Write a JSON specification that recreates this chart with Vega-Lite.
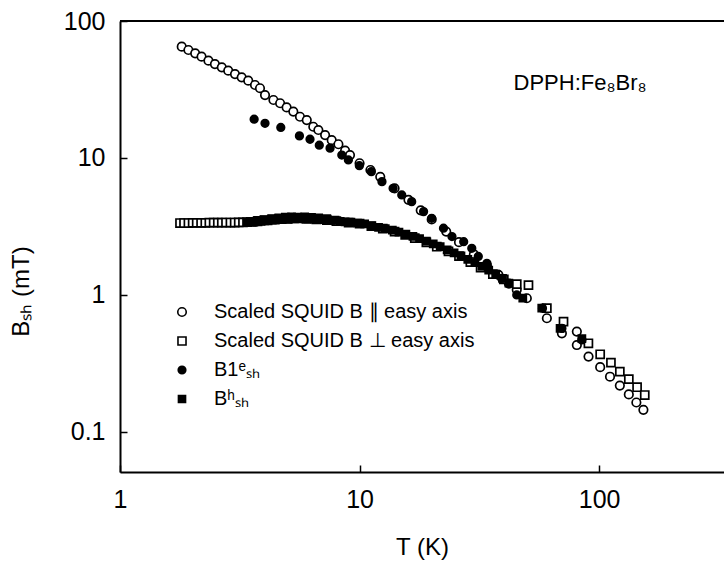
{
  "$schema": "https://vega.github.io/schema/vega-lite/v6.json",
  "autosize": "none",
  "width": 604,
  "height": 451,
  "padding": {"left": 120, "top": 21, "right": 0, "bottom": 91},
  "background": "white",
  "config": {
    "font": "Liberation Sans",
    "view": {"stroke": null},
    "axis": {"grid": false, "domainColor": "black", "domainWidth": 2, "tickColor": "black", "tickWidth": 1.5, "labelColor": "black", "titleColor": "black", "labelFont": "Liberation Sans", "titleFont": "Liberation Sans", "titleFontWeight": "normal"},
    "legend": {"labelFont": "Liberation Sans", "labelLimit": 500, "labelColor": "black", "title": null, "orient": "none", "legendX": 52, "legendY": 281, "labelFontSize": 20, "labelOffset": 22, "rowPadding": 9, "padding": 0, "symbolStrokeWidth": 1.6}
  },
  "datasets": {
    "pts": [
      {"T": 1.81, "B": 65.0, "series": "Scaled SQUID B ∥ easy axis"},
      {"T": 1.93, "B": 61.4, "series": "Scaled SQUID B ∥ easy axis"},
      {"T": 2.06, "B": 58.1, "series": "Scaled SQUID B ∥ easy axis"},
      {"T": 2.19, "B": 54.9, "series": "Scaled SQUID B ∥ easy axis"},
      {"T": 2.34, "B": 51.3, "series": "Scaled SQUID B ∥ easy axis"},
      {"T": 2.49, "B": 48.5, "series": "Scaled SQUID B ∥ easy axis"},
      {"T": 2.66, "B": 45.9, "series": "Scaled SQUID B ∥ easy axis"},
      {"T": 2.83, "B": 43.4, "series": "Scaled SQUID B ∥ easy axis"},
      {"T": 3.02, "B": 41.0, "series": "Scaled SQUID B ∥ easy axis"},
      {"T": 3.22, "B": 38.8, "series": "Scaled SQUID B ∥ easy axis"},
      {"T": 3.43, "B": 36.7, "series": "Scaled SQUID B ∥ easy axis"},
      {"T": 3.66, "B": 34.1, "series": "Scaled SQUID B ∥ easy axis"},
      {"T": 3.84, "B": 32.3, "series": "Scaled SQUID B ∥ easy axis"},
      {"T": 4.03, "B": 28.8, "series": "Scaled SQUID B ∥ easy axis"},
      {"T": 4.37, "B": 26.5, "series": "Scaled SQUID B ∥ easy axis"},
      {"T": 4.66, "B": 25.1, "series": "Scaled SQUID B ∥ easy axis"},
      {"T": 4.96, "B": 23.4, "series": "Scaled SQUID B ∥ easy axis"},
      {"T": 5.29, "B": 21.8, "series": "Scaled SQUID B ∥ easy axis"},
      {"T": 5.64, "B": 20.0, "series": "Scaled SQUID B ∥ easy axis"},
      {"T": 6.02, "B": 18.9, "series": "Scaled SQUID B ∥ easy axis"},
      {"T": 6.41, "B": 16.9, "series": "Scaled SQUID B ∥ easy axis"},
      {"T": 6.73, "B": 16.0, "series": "Scaled SQUID B ∥ easy axis"},
      {"T": 7.18, "B": 14.7, "series": "Scaled SQUID B ∥ easy axis"},
      {"T": 7.65, "B": 13.5, "series": "Scaled SQUID B ∥ easy axis"},
      {"T": 8.16, "B": 12.6, "series": "Scaled SQUID B ∥ easy axis"},
      {"T": 8.70, "B": 11.3, "series": "Scaled SQUID B ∥ easy axis"},
      {"T": 9.12, "B": 10.5, "series": "Scaled SQUID B ∥ easy axis"},
      {"T": 10.0, "B": 9.15, "series": "Scaled SQUID B ∥ easy axis"},
      {"T": 11.1, "B": 8.17, "series": "Scaled SQUID B ∥ easy axis"},
      {"T": 12.2, "B": 7.29, "series": "Scaled SQUID B ∥ easy axis"},
      {"T": 14.0, "B": 6.0, "series": "Scaled SQUID B ∥ easy axis"},
      {"T": 16.0, "B": 4.95, "series": "Scaled SQUID B ∥ easy axis"},
      {"T": 18.0, "B": 4.15, "series": "Scaled SQUID B ∥ easy axis"},
      {"T": 20.0, "B": 3.56, "series": "Scaled SQUID B ∥ easy axis"},
      {"T": 23.0, "B": 2.9, "series": "Scaled SQUID B ∥ easy axis"},
      {"T": 26.0, "B": 2.43, "series": "Scaled SQUID B ∥ easy axis"},
      {"T": 30.0, "B": 1.98, "series": "Scaled SQUID B ∥ easy axis"},
      {"T": 34.0, "B": 1.65, "series": "Scaled SQUID B ∥ easy axis"},
      {"T": 38.0, "B": 1.4, "series": "Scaled SQUID B ∥ easy axis"},
      {"T": 42.0, "B": 1.21, "series": "Scaled SQUID B ∥ easy axis"},
      {"T": 45.3, "B": 1.09, "series": "Scaled SQUID B ∥ easy axis"},
      {"T": 49.9, "B": 0.946, "series": "Scaled SQUID B ∥ easy axis"},
      {"T": 60.5, "B": 0.676, "series": "Scaled SQUID B ∥ easy axis"},
      {"T": 69.9, "B": 0.525, "series": "Scaled SQUID B ∥ easy axis"},
      {"T": 80.7, "B": 0.54, "series": "Scaled SQUID B ∥ easy axis"},
      {"T": 80.7, "B": 0.431, "series": "Scaled SQUID B ∥ easy axis"},
      {"T": 90.3, "B": 0.355, "series": "Scaled SQUID B ∥ easy axis"},
      {"T": 101, "B": 0.297, "series": "Scaled SQUID B ∥ easy axis"},
      {"T": 111, "B": 0.253, "series": "Scaled SQUID B ∥ easy axis"},
      {"T": 122, "B": 0.218, "series": "Scaled SQUID B ∥ easy axis"},
      {"T": 133, "B": 0.188, "series": "Scaled SQUID B ∥ easy axis"},
      {"T": 143, "B": 0.164, "series": "Scaled SQUID B ∥ easy axis"},
      {"T": 153, "B": 0.145, "series": "Scaled SQUID B ∥ easy axis"},

      {"T": 1.78, "B": 3.35, "series": "Scaled SQUID B ⊥ easy axis"},
      {"T": 1.85, "B": 3.35, "series": "Scaled SQUID B ⊥ easy axis"},
      {"T": 1.93, "B": 3.35, "series": "Scaled SQUID B ⊥ easy axis"},
      {"T": 2.01, "B": 3.36, "series": "Scaled SQUID B ⊥ easy axis"},
      {"T": 2.09, "B": 3.36, "series": "Scaled SQUID B ⊥ easy axis"},
      {"T": 2.18, "B": 3.36, "series": "Scaled SQUID B ⊥ easy axis"},
      {"T": 2.27, "B": 3.36, "series": "Scaled SQUID B ⊥ easy axis"},
      {"T": 2.36, "B": 3.37, "series": "Scaled SQUID B ⊥ easy axis"},
      {"T": 2.46, "B": 3.37, "series": "Scaled SQUID B ⊥ easy axis"},
      {"T": 2.56, "B": 3.37, "series": "Scaled SQUID B ⊥ easy axis"},
      {"T": 2.66, "B": 3.37, "series": "Scaled SQUID B ⊥ easy axis"},
      {"T": 2.77, "B": 3.38, "series": "Scaled SQUID B ⊥ easy axis"},
      {"T": 2.89, "B": 3.38, "series": "Scaled SQUID B ⊥ easy axis"},
      {"T": 3.01, "B": 3.38, "series": "Scaled SQUID B ⊥ easy axis"},
      {"T": 3.13, "B": 3.39, "series": "Scaled SQUID B ⊥ easy axis"},
      {"T": 3.26, "B": 3.39, "series": "Scaled SQUID B ⊥ easy axis"},
      {"T": 3.39, "B": 3.40, "series": "Scaled SQUID B ⊥ easy axis"},
      {"T": 3.55, "B": 3.42, "series": "Scaled SQUID B ⊥ easy axis"},
      {"T": 3.75, "B": 3.45, "series": "Scaled SQUID B ⊥ easy axis"},
      {"T": 4.0, "B": 3.5, "series": "Scaled SQUID B ⊥ easy axis"},
      {"T": 4.3, "B": 3.55, "series": "Scaled SQUID B ⊥ easy axis"},
      {"T": 4.6, "B": 3.58, "series": "Scaled SQUID B ⊥ easy axis"},
      {"T": 5.0, "B": 3.6, "series": "Scaled SQUID B ⊥ easy axis"},
      {"T": 5.5, "B": 3.62, "series": "Scaled SQUID B ⊥ easy axis"},
      {"T": 6.0, "B": 3.6, "series": "Scaled SQUID B ⊥ easy axis"},
      {"T": 6.6, "B": 3.57, "series": "Scaled SQUID B ⊥ easy axis"},
      {"T": 7.3, "B": 3.52, "series": "Scaled SQUID B ⊥ easy axis"},
      {"T": 8.0, "B": 3.46, "series": "Scaled SQUID B ⊥ easy axis"},
      {"T": 9.0, "B": 3.38, "series": "Scaled SQUID B ⊥ easy axis"},
      {"T": 10.0, "B": 3.32, "series": "Scaled SQUID B ⊥ easy axis"},
      {"T": 11.2, "B": 3.18, "series": "Scaled SQUID B ⊥ easy axis"},
      {"T": 12.5, "B": 3.05, "series": "Scaled SQUID B ⊥ easy axis"},
      {"T": 14.0, "B": 2.9, "series": "Scaled SQUID B ⊥ easy axis"},
      {"T": 15.5, "B": 2.75, "series": "Scaled SQUID B ⊥ easy axis"},
      {"T": 17.0, "B": 2.6, "series": "Scaled SQUID B ⊥ easy axis"},
      {"T": 19.0, "B": 2.42, "series": "Scaled SQUID B ⊥ easy axis"},
      {"T": 21.0, "B": 2.25, "series": "Scaled SQUID B ⊥ easy axis"},
      {"T": 23.5, "B": 2.08, "series": "Scaled SQUID B ⊥ easy axis"},
      {"T": 26.0, "B": 1.92, "series": "Scaled SQUID B ⊥ easy axis"},
      {"T": 29.0, "B": 1.74, "series": "Scaled SQUID B ⊥ easy axis"},
      {"T": 32.0, "B": 1.58, "series": "Scaled SQUID B ⊥ easy axis"},
      {"T": 36.0, "B": 1.42, "series": "Scaled SQUID B ⊥ easy axis"},
      {"T": 40.0, "B": 1.3, "series": "Scaled SQUID B ⊥ easy axis"},
      {"T": 45.3, "B": 1.20, "series": "Scaled SQUID B ⊥ easy axis"},
      {"T": 50.7, "B": 1.18, "series": "Scaled SQUID B ⊥ easy axis"},
      {"T": 60.5, "B": 0.80, "series": "Scaled SQUID B ⊥ easy axis"},
      {"T": 71.0, "B": 0.638, "series": "Scaled SQUID B ⊥ easy axis"},
      {"T": 90.2, "B": 0.444, "series": "Scaled SQUID B ⊥ easy axis"},
      {"T": 101, "B": 0.369, "series": "Scaled SQUID B ⊥ easy axis"},
      {"T": 112, "B": 0.321, "series": "Scaled SQUID B ⊥ easy axis"},
      {"T": 122, "B": 0.276, "series": "Scaled SQUID B ⊥ easy axis"},
      {"T": 133, "B": 0.243, "series": "Scaled SQUID B ⊥ easy axis"},
      {"T": 144, "B": 0.212, "series": "Scaled SQUID B ⊥ easy axis"},
      {"T": 155, "B": 0.186, "series": "Scaled SQUID B ⊥ easy axis"},

      {"T": 3.63, "B": 19.2, "series": "B1ᵉₛₕ"},
      {"T": 4.03, "B": 17.9, "series": "B1ᵉₛₕ"},
      {"T": 4.69, "B": 16.7, "series": "B1ᵉₛₕ"},
      {"T": 5.61, "B": 14.5, "series": "B1ᵉₛₕ"},
      {"T": 6.21, "B": 13.7, "series": "B1ᵉₛₕ"},
      {"T": 6.79, "B": 12.4, "series": "B1ᵉₛₕ"},
      {"T": 7.53, "B": 11.8, "series": "B1ᵉₛₕ"},
      {"T": 8.43, "B": 10.5, "series": "B1ᵉₛₕ"},
      {"T": 8.98, "B": 9.67, "series": "B1ᵉₛₕ"},
      {"T": 9.98, "B": 8.79, "series": "B1ᵉₛₕ"},
      {"T": 11.2, "B": 7.95, "series": "B1ᵉₛₕ"},
      {"T": 12.4, "B": 6.72, "series": "B1ᵉₛₕ"},
      {"T": 13.8, "B": 6.01, "series": "B1ᵉₛₕ"},
      {"T": 15.0, "B": 5.37, "series": "B1ᵉₛₕ"},
      {"T": 16.5, "B": 4.80, "series": "B1ᵉₛₕ"},
      {"T": 18.5, "B": 4.06, "series": "B1ᵉₛₕ"},
      {"T": 20.0, "B": 3.63, "series": "B1ᵉₛₕ"},
      {"T": 22.4, "B": 3.07, "series": "B1ᵉₛₕ"},
      {"T": 24.3, "B": 2.67, "series": "B1ᵉₛₕ"},
      {"T": 27.2, "B": 2.45, "series": "B1ᵉₛₕ"},
      {"T": 29.4, "B": 2.19, "series": "B1ᵉₛₕ"},
      {"T": 31.3, "B": 1.91, "series": "B1ᵉₛₕ"},
      {"T": 34.0, "B": 1.70, "series": "B1ᵉₛₕ"},
      {"T": 39.2, "B": 1.32, "series": "B1ᵉₛₕ"},
      {"T": 45.3, "B": 1.0, "series": "B1ᵉₛₕ"},
      {"T": 58.0, "B": 0.80, "series": "B1ᵉₛₕ"},
      {"T": 69.9, "B": 0.57, "series": "B1ᵉₛₕ"},
      {"T": 84.7, "B": 0.47, "series": "B1ᵉₛₕ"},

      {"T": 3.40, "B": 3.38, "series": "Bʰₛₕ"},
      {"T": 3.50, "B": 3.45, "series": "Bʰₛₕ"},
      {"T": 3.62, "B": 3.40, "series": "Bʰₛₕ"},
      {"T": 3.75, "B": 3.50, "series": "Bʰₛₕ"},
      {"T": 3.88, "B": 3.45, "series": "Bʰₛₕ"},
      {"T": 4.00, "B": 3.55, "series": "Bʰₛₕ"},
      {"T": 4.15, "B": 3.48, "series": "Bʰₛₕ"},
      {"T": 4.30, "B": 3.60, "series": "Bʰₛₕ"},
      {"T": 4.45, "B": 3.52, "series": "Bʰₛₕ"},
      {"T": 4.60, "B": 3.65, "series": "Bʰₛₕ"},
      {"T": 4.75, "B": 3.55, "series": "Bʰₛₕ"},
      {"T": 4.90, "B": 3.70, "series": "Bʰₛₕ"},
      {"T": 5.05, "B": 3.58, "series": "Bʰₛₕ"},
      {"T": 5.20, "B": 3.72, "series": "Bʰₛₕ"},
      {"T": 5.35, "B": 3.60, "series": "Bʰₛₕ"},
      {"T": 5.50, "B": 3.70, "series": "Bʰₛₕ"},
      {"T": 5.70, "B": 3.62, "series": "Bʰₛₕ"},
      {"T": 5.90, "B": 3.72, "series": "Bʰₛₕ"},
      {"T": 6.10, "B": 3.60, "series": "Bʰₛₕ"},
      {"T": 6.30, "B": 3.68, "series": "Bʰₛₕ"},
      {"T": 6.50, "B": 3.58, "series": "Bʰₛₕ"},
      {"T": 6.75, "B": 3.66, "series": "Bʰₛₕ"},
      {"T": 7.00, "B": 3.55, "series": "Bʰₛₕ"},
      {"T": 7.30, "B": 3.60, "series": "Bʰₛₕ"},
      {"T": 7.60, "B": 3.50, "series": "Bʰₛₕ"},
      {"T": 7.90, "B": 3.52, "series": "Bʰₛₕ"},
      {"T": 8.30, "B": 3.45, "series": "Bʰₛₕ"},
      {"T": 8.70, "B": 3.42, "series": "Bʰₛₕ"},
      {"T": 9.2, "B": 3.40, "series": "Bʰₛₕ"},
      {"T": 9.8, "B": 3.35, "series": "Bʰₛₕ"},
      {"T": 10.5, "B": 3.30, "series": "Bʰₛₕ"},
      {"T": 11.2, "B": 3.20, "series": "Bʰₛₕ"},
      {"T": 12.0, "B": 3.12, "series": "Bʰₛₕ"},
      {"T": 12.8, "B": 3.05, "series": "Bʰₛₕ"},
      {"T": 13.7, "B": 2.97, "series": "Bʰₛₕ"},
      {"T": 14.6, "B": 2.88, "series": "Bʰₛₕ"},
      {"T": 15.6, "B": 2.78, "series": "Bʰₛₕ"},
      {"T": 16.7, "B": 2.68, "series": "Bʰₛₕ"},
      {"T": 17.8, "B": 2.58, "series": "Bʰₛₕ"},
      {"T": 19.0, "B": 2.47, "series": "Bʰₛₕ"},
      {"T": 20.3, "B": 2.36, "series": "Bʰₛₕ"},
      {"T": 21.7, "B": 2.25, "series": "Bʰₛₕ"},
      {"T": 23.2, "B": 2.13, "series": "Bʰₛₕ"},
      {"T": 24.8, "B": 2.03, "series": "Bʰₛₕ"},
      {"T": 26.5, "B": 1.93, "series": "Bʰₛₕ"},
      {"T": 28.3, "B": 1.82, "series": "Bʰₛₕ"},
      {"T": 30.3, "B": 1.72, "series": "Bʰₛₕ"},
      {"T": 32.4, "B": 1.62, "series": "Bʰₛₕ"},
      {"T": 34.6, "B": 1.52, "series": "Bʰₛₕ"},
      {"T": 37.0, "B": 1.42, "series": "Bʰₛₕ"},
      {"T": 39.5, "B": 1.32, "series": "Bʰₛₕ"},
      {"T": 42.0, "B": 1.22, "series": "Bʰₛₕ"},
      {"T": 48.0, "B": 0.95, "series": "Bʰₛₕ"},
      {"T": 57.6, "B": 0.80, "series": "Bʰₛₕ"},
      {"T": 68.7, "B": 0.57, "series": "Bʰₛₕ"},
      {"T": 84.7, "B": 0.48, "series": "Bʰₛₕ"}
    ],
    "note": [{"label": "DPPH:Fe₈Br₈", "T": 83.3, "B": 31.4}]
  },
  "layer": [
    {
      "data": {"name": "note"},
      "mark": {"type": "rule", "color": "black", "strokeWidth": 2},
      "encoding": {"y": {"datum": 100, "type": "quantitative", "scale": {"type": "log"}}}
    },
    {
      "data": {"name": "pts"},
      "mark": {"type": "point", "filled": true, "strokeWidth": 1.7, "opacity": 1},
      "encoding": {
        "x": {
          "field": "T", "type": "quantitative",
          "scale": {"type": "log", "domain": [1, 332], "nice": false},
          "axis": {"values": [1, 10, 100], "format": "~g", "title": "T (K)", "tickSize": -7, "labelFontSize": 25, "labelPadding": 22, "labelFlush": false, "labelOverlap": false, "titleFontSize": 24, "titleY": 82, "titleBaseline": "alphabetic"}
        },
        "y": {
          "field": "B", "type": "quantitative",
          "scale": {"type": "log", "domain": [0.051, 100], "nice": false},
          "axis": {"values": [0.1, 1, 10, 100], "format": "~g", "title": "Bₛₕ (mT)", "tickSize": -7, "labelFontSize": 25, "labelPadding": 22, "labelFlush": false, "labelOverlap": false, "titleFontSize": 24, "titleAngle": 270, "titleX": -92, "titleY": 270, "titleAlign": "center", "titleBaseline": "alphabetic"}
        },
        "shape": {
          "field": "series", "type": "nominal",
          "scale": {"domain": ["Scaled SQUID B ∥ easy axis", "Scaled SQUID B ⊥ easy axis", "B1ᵉₛₕ", "Bʰₛₕ"], "range": ["circle", "square", "circle", "square"]}
        },
        "fill": {
          "field": "series", "type": "nominal",
          "scale": {"domain": ["Scaled SQUID B ∥ easy axis", "Scaled SQUID B ⊥ easy axis", "B1ᵉₛₕ", "Bʰₛₕ"], "range": ["white", "white", "black", "black"]}
        },
        "stroke": {
          "field": "series", "type": "nominal",
          "scale": {"domain": ["Scaled SQUID B ∥ easy axis", "Scaled SQUID B ⊥ easy axis", "B1ᵉₛₕ", "Bʰₛₕ"], "range": ["black", "black", "black", "black"]}
        },
        "size": {
          "field": "series", "type": "nominal",
          "scale": {"domain": ["Scaled SQUID B ∥ easy axis", "Scaled SQUID B ⊥ easy axis", "B1ᵉₛₕ", "Bʰₛₕ"], "range": [72, 50, 135, 60]}
        }
      }
    },
    {
      "data": {"name": "note"},
      "mark": {"type": "text", "fontSize": 22, "align": "center", "baseline": "alphabetic", "color": "black", "font": "Liberation Sans"},
      "encoding": {
        "text": {"field": "label", "type": "nominal"},
        "x": {"field": "T", "type": "quantitative"},
        "y": {"field": "B", "type": "quantitative"}
      }
    }
  ]
}
